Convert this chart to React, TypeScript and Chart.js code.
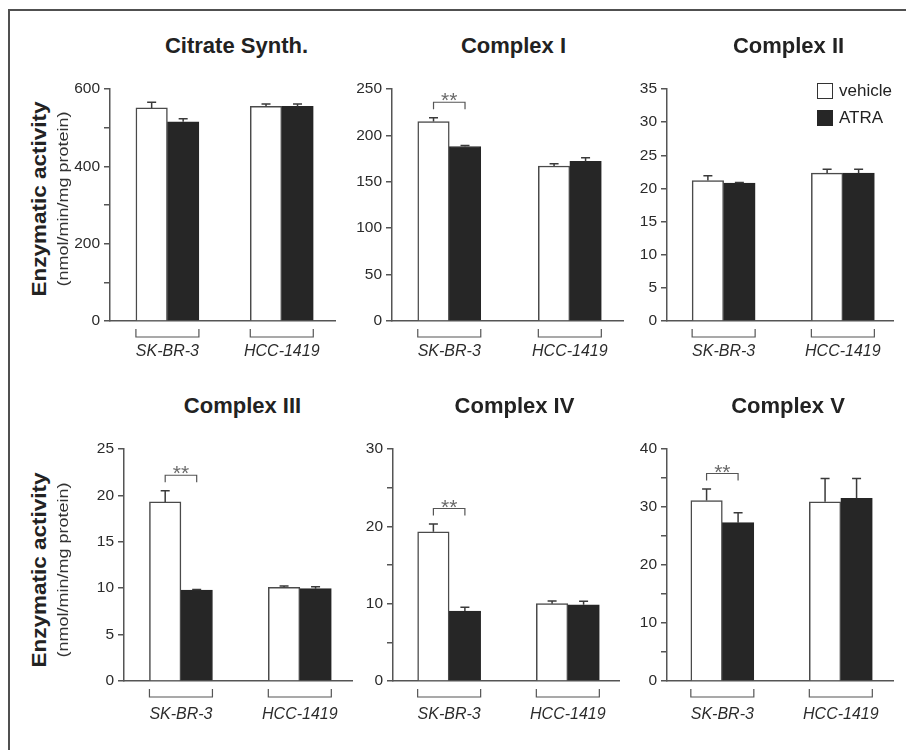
import React, { useEffect, useRef } from 'react';
import { Chart, registerables } from 'chart.js';

Chart.register(...registerables);

const FONT = '"Liberation Sans", Arial, Helvetica, sans-serif';
Chart.defaults.font.family = FONT;
Chart.defaults.color = '#2b2b2b';

// ---- data -------------------------------------------------------------
const cellLines = ['SK-BR-3', 'HCC-1419'];
const seriesNames = ['vehicle', 'ATRA'];

const citrateVehicle = [551, 555];
const citrateVehicleSem = [15, 6];
const citrateAtra = [515, 555];
const citrateAtraSem = [8, 6];

const complex1Vehicle = [215, 167];
const complex1VehicleSem = [4, 2.5];
const complex1Atra = [188, 172];
const complex1AtraSem = [1, 4];

const complex2Vehicle = [21.2, 22.3];
const complex2VehicleSem = [0.7, 0.6];
const complex2Atra = [20.8, 22.3];
const complex2AtraSem = [0.1, 0.6];

const complex3Vehicle = [19.3, 10.1];
const complex3VehicleSem = [1.2, 0.15];
const complex3Atra = [9.8, 9.95];
const complex3AtraSem = [0.05, 0.2];

const complex4Vehicle = [19.3, 10.0];
const complex4VehicleSem = [1.0, 0.35];
const complex4Atra = [9.05, 9.85];
const complex4AtraSem = [0.5, 0.45];

const complex5Vehicle = [31.1, 30.9];
const complex5VehicleSem = [2.0, 4.0];
const complex5Atra = [27.3, 31.5];
const complex5AtraSem = [1.7, 3.4];

// y axis: max, tick step, label every
const yMaxes = [600, 250, 35, 25, 30, 40];
const ySteps = [100, 50, 5, 5, 5, 5];
const yLabelEvery = [200, 50, 5, 5, 10, 10];

// index of the cell line marked "**" (null = none)
const significantGroup: (number | null)[] = [null, 0, null, 0, 0, 0];

const panelTitles = ['Citrate Synth.', 'Complex I', 'Complex II', 'Complex III', 'Complex IV', 'Complex V'];

// ---- styling ----------------------------------------------------------
const AXIS = '#555555';
const DARK = '#262626';
const TEXT = '#2b2b2b';

type Geom = {
  axisX: number; axisEnd: number; top: number; zero: number;
  xMin: number; xMax: number; titleX: number; titleY: number; labelPad: number;
};

const geoms: Geom[] = [
  { axisX: 110, axisEnd: 336, top: 89, zero: 321, xMin: -0.502, xMax: 1.472, titleX: 236.5, titleY: 46, labelPad: 21 },
  { axisX: 392, axisEnd: 624, top: 89, zero: 321, xMin: -0.475, xMax: 1.442, titleX: 513.5, titleY: 46, labelPad: 21 },
  { axisX: 667, axisEnd: 897, top: 89, zero: 321, xMin: -0.475, xMax: 1.426, titleX: 788.5, titleY: 46, labelPad: 21 },
  { axisX: 124, axisEnd: 357, top: 449, zero: 681, xMin: -0.479, xMax: 1.447, titleX: 242.5, titleY: 406, labelPad: 24 },
  { axisX: 393, axisEnd: 625, top: 449, zero: 681, xMin: -0.473, xMax: 1.436, titleX: 514.5, titleY: 406, labelPad: 24 },
  { axisX: 667, axisEnd: 898, top: 449, zero: 681, xMin: -0.467, xMax: 1.442, titleX: 788, titleY: 406, labelPad: 24 },
];

type PanelCfg = {
  title: string;
  vehicle: number[]; vehicleSem: number[];
  atra: number[]; atraSem: number[];
  yMax: number; yStep: number; yLabel: number;
  sig: number | null;
  geom: Geom;
};

const series = [
  [citrateVehicle, citrateVehicleSem, citrateAtra, citrateAtraSem],
  [complex1Vehicle, complex1VehicleSem, complex1Atra, complex1AtraSem],
  [complex2Vehicle, complex2VehicleSem, complex2Atra, complex2AtraSem],
  [complex3Vehicle, complex3VehicleSem, complex3Atra, complex3AtraSem],
  [complex4Vehicle, complex4VehicleSem, complex4Atra, complex4AtraSem],
  [complex5Vehicle, complex5VehicleSem, complex5Atra, complex5AtraSem],
];

const panels: PanelCfg[] = panelTitles.map((title, k) => ({
  title,
  vehicle: series[k][0], vehicleSem: series[k][1],
  atra: series[k][2], atraSem: series[k][3],
  yMax: yMaxes[k], yStep: ySteps[k], yLabel: yLabelEvery[k],
  sig: significantGroup[k],
  geom: geoms[k],
}));

const LEFT_PAD = 50; // y axis width inside each canvas
const TOP_PAD = 25;
const RIGHT_PAD = 6;
const BOTTOM = 55; // x axis band height

// error bars, group brackets under the axis and significance markers
function decorations(cfg: PanelCfg) {
  const means = [cfg.vehicle, cfg.atra];
  const sems = [cfg.vehicleSem, cfg.atraSem];
  return {
    id: 'decorations',
    afterDatasetsDraw(chart: any) {
      const ctx = chart.ctx;
      const ys = chart.scales.y;
      ctx.save();
      ctx.strokeStyle = '#3a3a3a';
      ctx.lineWidth = 1.5;
      [0, 1].forEach((d) => {
        chart.getDatasetMeta(d).data.forEach((bar: any, i: number) => {
          const { x, y } = bar.getProps(['x', 'y'], true);
          const yTop = ys.getPixelForValue(means[d][i] + sems[d][i]);
          ctx.beginPath();
          ctx.moveTo(x, y);
          ctx.lineTo(x, yTop);
          ctx.moveTo(x - 4.5, yTop);
          ctx.lineTo(x + 4.5, yTop);
          ctx.stroke();
        });
      });
      ctx.restore();
    },
    afterDraw(chart: any) {
      const ctx = chart.ctx;
      const ys = chart.scales.y;
      const zero = chart.chartArea.bottom;
      const m0 = chart.getDatasetMeta(0).data;
      const m1 = chart.getDatasetMeta(1).data;
      ctx.save();
      ctx.strokeStyle = AXIS;
      ctx.lineWidth = 1.2;
      cellLines.forEach((_, i) => {
        const v = m0[i].getProps(['x', 'width'], true);
        const a = m1[i].getProps(['x', 'width'], true);
        const l = v.x - v.width / 2;
        const r = a.x + a.width / 2;
        ctx.beginPath();
        ctx.moveTo(l, zero + 8);
        ctx.lineTo(l, zero + 16);
        ctx.lineTo(r, zero + 16);
        ctx.lineTo(r, zero + 8);
        ctx.stroke();
      });
      if (cfg.sig !== null) {
        const i = cfg.sig;
        const vx = m0[i].getProps(['x'], true).x;
        const ax = m1[i].getProps(['x'], true).x;
        const top = Math.max(means[0][i] + sems[0][i], means[1][i] + sems[1][i]);
        const by = ys.getPixelForValue(top) - 15.5;
        ctx.beginPath();
        ctx.moveTo(vx, by + 7);
        ctx.lineTo(vx, by);
        ctx.lineTo(ax, by);
        ctx.lineTo(ax, by + 7);
        ctx.stroke();
        ctx.fillStyle = '#6a6a6a';
        ctx.font = `21px ${FONT}`;
        ctx.textAlign = 'center';
        ctx.textBaseline = 'alphabetic';
        ctx.fillText('**', (vx + ax) / 2, by + 5);
      }
      ctx.restore();
    },
  };
}

function Panel({ cfg }: { cfg: PanelCfg }) {
  const ref = useRef<HTMLCanvasElement>(null);
  const g = cfg.geom;
  const left = g.axisX - LEFT_PAD;
  const top = g.top - TOP_PAD;
  const width = g.axisEnd + RIGHT_PAD - left;
  const height = g.zero + BOTTOM - top;

  useEffect(() => {
    const chart = new Chart(ref.current as HTMLCanvasElement, {
      type: 'bar',
      data: {
        datasets: [
          {
            label: seriesNames[0],
            data: cfg.vehicle.map((v, i) => ({ x: i, y: v })),
            backgroundColor: '#ffffff',
            borderColor: '#4a4a4a',
            borderWidth: 1.5,
          },
          {
            label: seriesNames[1],
            data: cfg.atra.map((v, i) => ({ x: i, y: v })),
            backgroundColor: DARK,
            borderColor: DARK,
            borderWidth: 1,
          },
        ],
      } as any,
      options: {
        responsive: false,
        animation: false,
        devicePixelRatio: 1,
        events: [],
        datasets: { bar: { barThickness: 31.5 } },
        layout: { padding: { left: 0, top: TOP_PAD, right: RIGHT_PAD, bottom: 0 } },
        plugins: {
          legend: { display: false },
          tooltip: { enabled: false },
          title: { display: false },
        },
        scales: {
          x: {
            type: 'linear',
            min: g.xMin,
            max: g.xMax,
            bounds: 'data',
            offset: false,
            afterBuildTicks: (s: any) => {
              s.ticks = cellLines.map((_, i) => ({ value: i }));
            },
            afterFit: (s: any) => {
              s.height = BOTTOM;
            },
            grid: { display: false, drawTicks: false },
            border: { color: AXIS, width: 1.5 },
            ticks: {
              autoSkip: false,
              maxRotation: 0,
              padding: g.labelPad,
              color: TEXT,
              font: { size: 16, style: 'italic' },
              callback: (v: any) => cellLines[Math.round(Number(v))] ?? '',
            },
          },
          y: {
            min: 0,
            max: cfg.yMax,
            afterFit: (s: any) => {
              s.width = LEFT_PAD;
            },
            grid: { drawOnChartArea: false, drawTicks: true, tickLength: 6, color: AXIS, lineWidth: 1.5 },
            border: { color: AXIS, width: 1.5 },
            ticks: {
              stepSize: cfg.yStep,
              autoSkip: false,
              padding: 4,
              color: TEXT,
              font: { size: 15.5 },
              callback: (v: any) => (Math.round(Number(v)) % cfg.yLabel === 0 ? String(v) : ''),
            },
          },
        },
      } as any,
      plugins: [decorations(cfg)],
    });
    return () => chart.destroy();
  }, []);

  return (
    <>
      <canvas
        ref={ref}
        width={width}
        height={height}
        style={{ position: 'absolute', left, top, width, height }}
      />
      <div
        style={{
          position: 'absolute',
          left: g.titleX,
          top: g.titleY,
          transform: 'translate(-50%, -50%)',
          font: `bold 22px ${FONT}`,
          lineHeight: '22px',
          color: '#222',
          whiteSpace: 'nowrap',
        }}
      >
        {cfg.title}
      </div>
    </>
  );
}

function AxisTitle({ y }: { y: number }) {
  return (
    <>
      <div
        style={{
          position: 'absolute',
          left: 38,
          top: y,
          transform: 'translate(-50%, -50%) rotate(-90deg) scaleX(1.07)',
          font: `bold 21px ${FONT}`,
          lineHeight: '21px',
          color: '#222',
          whiteSpace: 'nowrap',
        }}
      >
        Enzymatic activity
      </div>
      <div
        style={{
          position: 'absolute',
          left: 62,
          top: y,
          transform: 'translate(-50%, -50%) rotate(-90deg) scaleX(1.2)',
          font: `15px ${FONT}`,
          lineHeight: '15px',
          color: '#333',
          whiteSpace: 'nowrap',
        }}
      >
        (nmol/min/mg protein)
      </div>
    </>
  );
}

function Legend() {
  const item = (name: string, fill: string, top: number) => (
    <div style={{ position: 'absolute', left: 817, top, height: 16, display: 'flex', alignItems: 'center' }}>
      <div
        style={{
          width: 16,
          height: 16,
          boxSizing: 'border-box',
          background: fill,
          border: `1.5px solid ${fill === '#ffffff' ? '#333' : DARK}`,
        }}
      />
      <span style={{ marginLeft: 6, font: `17px ${FONT}`, lineHeight: '16px', color: '#222' }}>{name}</span>
    </div>
  );
  return (
    <>
      {item(seriesNames[0], '#ffffff', 83)}
      {item(seriesNames[1], DARK, 110)}
    </>
  );
}

export default function App() {
  return (
    <div
      style={{
        position: 'absolute',
        left: 0,
        top: 0,
        width: 906,
        height: 750,
        overflow: 'hidden',
        background: '#ffffff',
      }}
    >
      <div
        style={{
          position: 'absolute',
          left: 8,
          top: 9,
          right: -10,
          bottom: -10,
          borderLeft: '2px solid #505050',
          borderTop: '2px solid #505050',
        }}
      />
      {panels.map((p, k) => (
        <Panel key={k} cfg={p} />
      ))}
      <AxisTitle y={199} />
      <AxisTitle y={570} />
      <Legend />
    </div>
  );
}
